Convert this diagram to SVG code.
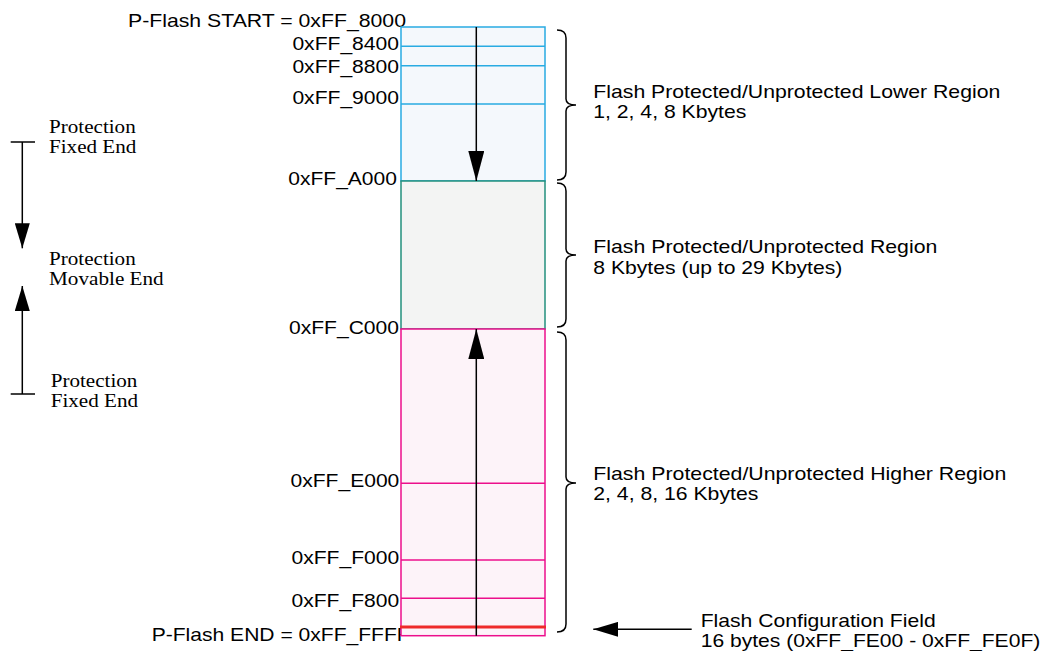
<svg xmlns="http://www.w3.org/2000/svg" width="1043" height="651" viewBox="0 0 1043 651">
<style>
.s{font-family:"Liberation Sans",Arial,sans-serif;font-size:19px;fill:#000}
.r{font-family:"Liberation Serif","Times New Roman",serif;font-size:19px;fill:#000}
.ln{stroke:#000;stroke-width:1.5;fill:none}
.br{stroke:#000;stroke-width:1.5;fill:none}
.blue{stroke:#29abe2;stroke-width:1.5}
.green{stroke:#23907e;stroke-width:1.5}
.pink{stroke:#ec0f8c;stroke-width:1.5}
</style>
<defs>
<marker id="ah" viewBox="0 0 30 16" refX="30" refY="8" markerWidth="30" markerHeight="16" markerUnits="userSpaceOnUse" orient="auto">
<path d="M0,0 L30,8 L0,16 Z" fill="#000"/>
</marker>
<marker id="ahs" viewBox="0 0 25 15" refX="25" refY="7.5" markerWidth="25" markerHeight="15" markerUnits="userSpaceOnUse" orient="auto">
<path d="M0,0 L25,7.5 L0,15 Z" fill="#000"/>
</marker>
</defs>

<g id="address-labels">
<text class="s" x="128" y="26.7" textLength="278" lengthAdjust="spacingAndGlyphs">P-Flash START = 0xFF_8000</text>
<text class="s" x="292.4" y="50" textLength="106.6" lengthAdjust="spacingAndGlyphs">0xFF_8400</text>
<text class="s" x="292.4" y="73.3" textLength="106.6" lengthAdjust="spacingAndGlyphs">0xFF_8800</text>
<text class="s" x="292.4" y="104" textLength="106.6" lengthAdjust="spacingAndGlyphs">0xFF_9000</text>
<text class="s" x="288.3" y="185" textLength="108.6" lengthAdjust="spacingAndGlyphs">0xFF_A000</text>
<text class="s" x="289" y="334" textLength="110" lengthAdjust="spacingAndGlyphs">0xFF_C000</text>
<text class="s" x="290.5" y="486.7" textLength="108.8" lengthAdjust="spacingAndGlyphs">0xFF_E000</text>
<text class="s" x="291.5" y="564" textLength="107.7" lengthAdjust="spacingAndGlyphs">0xFF_F000</text>
<text class="s" x="291.5" y="606.7" textLength="107.7" lengthAdjust="spacingAndGlyphs">0xFF_F800</text>
<text class="s" x="151.7" y="641" textLength="258" lengthAdjust="spacingAndGlyphs">P-Flash END = 0xFF_FFFF</text>
</g>

<g id="lower-region">
<rect x="401" y="27" width="144" height="154" fill="#f4f8fc" class="blue"/>
<line x1="401" y1="46.3" x2="545" y2="46.3" class="blue"/>
<line x1="401" y1="65.7" x2="545" y2="65.7" class="blue"/>
<line x1="401" y1="104" x2="545" y2="104" class="blue"/>
</g>
<g id="middle-region">
<rect x="401" y="181" width="144" height="148" fill="#f3f4f3" class="green"/>
</g>
<g id="higher-region">
<rect x="401" y="329" width="144" height="306.7" fill="#fdf3f9" class="pink"/>
<line x1="401" y1="483.3" x2="545" y2="483.3" class="pink"/>
<line x1="401" y1="560" x2="545" y2="560" class="pink"/>
<line x1="401" y1="598.3" x2="545" y2="598.3" class="pink"/>
<line x1="400" y1="627" x2="546" y2="627" stroke="#ee2a2a" stroke-width="3"/>
</g>

<g id="protection-legend">
<text class="r" x="49" y="133.3" textLength="86.7" lengthAdjust="spacingAndGlyphs">Protection</text>
<text class="r" x="49" y="153.3" textLength="87.3" lengthAdjust="spacingAndGlyphs">Fixed End</text>
<text class="r" x="49" y="265" textLength="86.7" lengthAdjust="spacingAndGlyphs">Protection</text>
<text class="r" x="49" y="285" textLength="114.7" lengthAdjust="spacingAndGlyphs">Movable End</text>
<text class="r" x="50.7" y="386.7" textLength="86.7" lengthAdjust="spacingAndGlyphs">Protection</text>
<text class="r" x="50.7" y="406.7" textLength="87.3" lengthAdjust="spacingAndGlyphs">Fixed End</text>
</g>

<g id="region-labels">
<text class="s" x="593.3" y="98.3" textLength="407" lengthAdjust="spacingAndGlyphs">Flash Protected/Unprotected Lower Region</text>
<text class="s" x="593.3" y="118.3" textLength="153" lengthAdjust="spacingAndGlyphs">1, 2, 4, 8 Kbytes</text>
<text class="s" x="593.3" y="253.3" textLength="344" lengthAdjust="spacingAndGlyphs">Flash Protected/Unprotected Region</text>
<text class="s" x="593.3" y="274.3" textLength="249" lengthAdjust="spacingAndGlyphs">8 Kbytes (up to 29 Kbytes)</text>
<text class="s" x="593.3" y="480" textLength="413" lengthAdjust="spacingAndGlyphs">Flash Protected/Unprotected Higher Region</text>
<text class="s" x="593.3" y="500" textLength="165" lengthAdjust="spacingAndGlyphs">2, 4, 8, 16 Kbytes</text>
<text class="s" x="700.7" y="626.7" textLength="235" lengthAdjust="spacingAndGlyphs">Flash Configuration Field</text>
<text class="s" x="700.7" y="646.7" textLength="339.6" lengthAdjust="spacingAndGlyphs">16 bytes (0xFF_FE00 - 0xFF_FE0F)</text>
</g>

<g id="connectors">
<line x1="476.3" y1="27" x2="476.3" y2="181" class="ln" marker-end="url(#ah)"/>
<line x1="476.3" y1="635.7" x2="476.3" y2="329" class="ln" marker-end="url(#ah)"/>
<line x1="10.7" y1="142" x2="35" y2="142" class="ln"/>
<line x1="22.3" y1="142" x2="22.3" y2="248.3" class="ln" marker-end="url(#ahs)"/>
<line x1="10.7" y1="394" x2="35" y2="394" class="ln"/>
<line x1="22.3" y1="394" x2="22.3" y2="286" class="ln" marker-end="url(#ahs)"/>
<line x1="691.7" y1="629.3" x2="593.3" y2="629.3" class="ln" marker-end="url(#ahs)"/>
<path class="br" d="M557,30 Q566,30 566,38 L566,99 Q566,105 576,105 Q566,105 566,111 L566,172 Q566,180 557,180"/>
<path class="br" d="M557,183 Q566,183 566,191 L566,249 Q566,255 576,255 Q566,255 566,261 L566,319 Q566,327 557,327"/>
<path class="br" d="M557,332 Q566,332 566,340 L566,477 Q566,483 576,483 Q566,483 566,489 L566,624 Q566,632 557,632"/>
</g>
</svg>
